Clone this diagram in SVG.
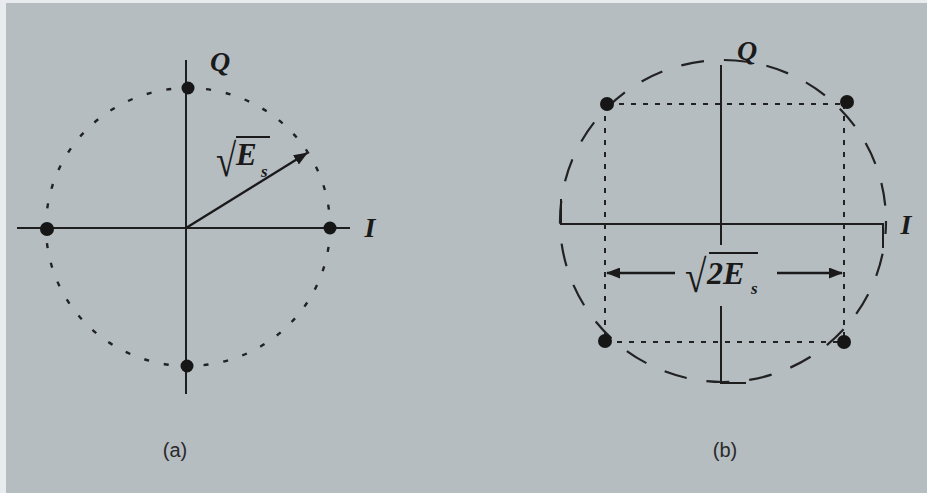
<svg xmlns="http://www.w3.org/2000/svg" width="927" height="493" viewBox="0 0 927 493">
<defs>
<style>
.bg{fill:#b5bdc1}
.axis{stroke:#1e1e1e;stroke-width:2;fill:none}
.dotted{stroke:#222;stroke-width:2.4;fill:none;stroke-dasharray:5 15}
.grid{stroke:#222;stroke-width:2;fill:none;stroke-dasharray:5 7}
.dashed{stroke:#222;stroke-width:2.2;fill:none;stroke-dasharray:23 20}
.pt{fill:#161616}
.lbl{font-family:"Liberation Serif",serif;font-style:italic;font-weight:bold;fill:#1a1a1a}
.cap{font-family:"Liberation Sans",Arial,sans-serif;font-size:20px;fill:#2a2a2a}
.rad{font-family:"Liberation Serif",serif;fill:#1a1a1a}
</style>
<marker id="ah" viewBox="0 0 14 11" refX="13" refY="5.5" markerWidth="14" markerHeight="11" markerUnits="userSpaceOnUse" orient="auto">
<path d="M0,0 L14,5.5 L0,11 Z" fill="#1a1a1a"/>
</marker>
</defs>
<rect class="bg" x="0" y="0" width="927" height="493"/>
<rect x="0" y="0" width="6" height="493" fill="#e8ecee"/>
<rect x="0" y="0" width="927" height="3" fill="#e8ecee"/>

<g id="panel-a">
<g id="a-circle"><ellipse class="dotted" cx="188" cy="227" rx="142" ry="139"/></g>
<g id="a-axes">
<line class="axis" x1="186" y1="60" x2="186" y2="394"/>
<line class="axis" x1="17" y1="228" x2="350" y2="228"/>
</g>
<g id="a-points">
<circle class="pt" cx="188" cy="88" r="6.5"/>
<circle class="pt" cx="187" cy="366" r="6.5"/>
<circle class="pt" cx="47" cy="229" r="7"/>
<circle class="pt" cx="330" cy="228" r="6.5"/>
</g>
<g id="a-labels">
<text class="lbl" x="220" y="71" font-size="28" text-anchor="middle">Q</text>
<text class="lbl" x="370" y="237" font-size="28" text-anchor="middle">I</text>
<text class="cap" x="175" y="457" text-anchor="middle">(a)</text>
</g>
<g id="a-vector-label">
<text class="rad" x="0" y="0" font-size="46" transform="translate(216,176) scale(0.8,1)">√</text>
<line x1="236" y1="137" x2="270" y2="137" stroke="#1a1a1a" stroke-width="2"/>
<text class="lbl" x="236" y="165" font-size="31">E</text>
<text class="lbl" x="261" y="177" font-size="17">s</text>
</g>
</g>

<g id="panel-b">
<g id="b-circle"><ellipse class="dashed" cx="723" cy="221" rx="163" ry="161" stroke-dashoffset="10"/></g>
<g id="b-axes">
<line class="axis" x1="721" y1="65" x2="721" y2="245"/>
<polyline class="axis" points="721,306 721,383 746,383"/>
<polyline class="axis" points="561,199 561,224 883,224 883,248"/>
</g>
<g id="b-grid">
<line class="grid" x1="607" y1="104" x2="847" y2="104"/>
<line class="grid" x1="605" y1="342" x2="844" y2="342"/>
<line class="grid" x1="605" y1="104" x2="605" y2="342"/>
<line class="grid" x1="844" y1="104" x2="844" y2="342"/>
</g>
<g id="b-points">
<circle class="pt" cx="607" cy="104" r="7"/>
<circle class="pt" cx="847" cy="102" r="7"/>
<circle class="pt" cx="605" cy="341" r="7"/>
<circle class="pt" cx="844" cy="342" r="7"/>
</g>
<g id="b-labels">
<text class="lbl" x="747" y="60" font-size="28" text-anchor="middle">Q</text>
<text class="lbl" x="906" y="234" font-size="28" text-anchor="middle">I</text>
<text class="cap" x="725" y="457" text-anchor="middle">(b)</text>
</g>
<g id="b-distance-label">
<text class="rad" x="0" y="0" font-size="46" transform="translate(685,292) scale(0.85,1)">√</text>
<line x1="709" y1="253" x2="758" y2="253" stroke="#1a1a1a" stroke-width="2"/>
<text class="lbl" x="707" y="284" font-size="32">2E</text>
<text class="lbl" x="751" y="294" font-size="17">s</text>
</g>
</g>

<g id="connectors">
<line x1="186" y1="228" x2="307" y2="153" stroke="#1a1a1a" stroke-width="2.2" marker-end="url(#ah)"/>
<line x1="675" y1="273" x2="607" y2="273" stroke="#1a1a1a" stroke-width="2.4" marker-end="url(#ah)"/>
<line x1="777" y1="273" x2="842" y2="273" stroke="#1a1a1a" stroke-width="2.4" marker-end="url(#ah)"/>
</g>
</svg>
